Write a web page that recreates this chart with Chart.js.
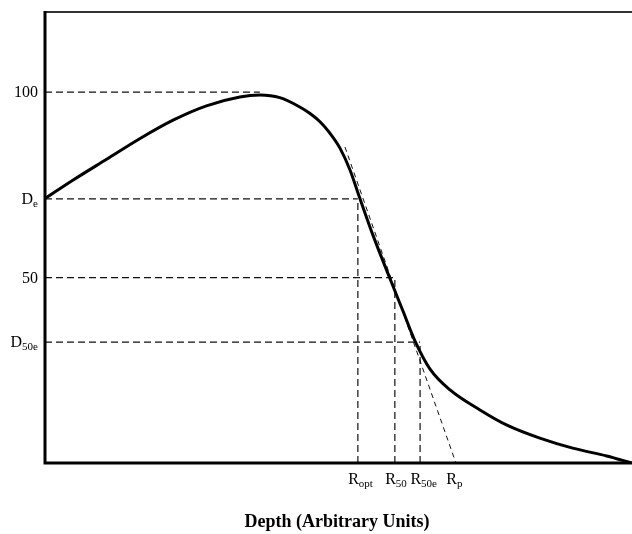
<!DOCTYPE html>
<html>
<head>
<meta charset="utf-8">
<script src="https://cdn.jsdelivr.net/npm/chart.js@4.4.1/dist/chart.umd.min.js"></script>
<style>
  html, body { margin: 0; padding: 0; background: #fff; }
  #wrap { width: 632px; height: 534px; position: relative; }
</style>
</head>
<body>
<div id="wrap"><canvas id="c"></canvas></div>
<script>
// Depth-dose curve (arbitrary units)
const depth = [0, 4.8, 10.5, 16.2, 21.9, 27.5, 33.2, 36.6, 40.0, 43.4, 45.1, 46.85, 48.55, 50.25, 51.96, 53.5, 55.9, 58.8, 61.0, 63.0, 65.6, 69.0, 74.1, 78.7, 84.3, 89.9, 95.7, 100];
const dose  = [71.3, 76.3, 81.9, 87.5, 92.5, 96.3, 98.7, 99.2, 98.5, 96.0, 94.3, 92.0, 88.9, 84.9, 79.0, 72.0, 61.3, 49.6, 40.9, 33.0, 25.3, 19.7, 14.3, 10.2, 6.7, 4.0, 1.9, 0];

// reference dose levels (y tick labels)
const doseLevels = [100, 71.2, 50, 32.6];
const doseMain   = ["100", "D", "50", "D"];
const doseSub    = ["", "e", "", "50e"];

// reference depths (x tick labels)
const peakDepth   = 36.6;
const rangeDepths = [53.3, 59.6, 63.9, 70.0];
const rangeMain   = ["R", "R", "R", "R"];
const rangeSub    = ["opt", "50", "50e", "p"];

// tangent line through the steepest fall-off
const tangentX = [51.1, 70.0];
const tangentY = [85.2, 0];

const xTitle = "Depth (Arbitrary Units)";
const xMin = 0, xMax = 100, yMin = 0, yMax = 121.6;

const dashStyle = { borderColor: '#111', borderWidth: 1.2, borderDash: [7, 4], pointRadius: 0, fill: false, tension: 0 };

const datasets = [];
datasets.push({
  label: 'dose',
  data: depth.map((x, i) => ({ x: x, y: dose[i] })),
  borderColor: '#000', borderWidth: 3, pointRadius: 0, fill: false,
  cubicInterpolationMode: 'monotone'
});
// horizontal guide lines: from axis to the curve
const hEnds = [peakDepth, rangeDepths[0], rangeDepths[1], rangeDepths[2]];
doseLevels.forEach((lv, i) => {
  datasets.push(Object.assign({ data: [{ x: xMin, y: lv }, { x: hEnds[i], y: lv }] }, dashStyle));
});
// vertical guide lines: from axis up to the curve
const vTops = [doseLevels[1], doseLevels[2], doseLevels[3]];
for (let i = 0; i < 3; i++) {
  datasets.push(Object.assign({ data: [{ x: rangeDepths[i], y: yMin }, { x: rangeDepths[i], y: vTops[i] }] }, dashStyle));
}
datasets.push(Object.assign({}, dashStyle, { borderDash: [5, 4], borderWidth: 1, data: tangentX.map((x, i) => ({ x: x, y: tangentY[i] })) }));

const FONT = "'Liberation Serif', 'Times New Roman', serif";

function drawSubLabel(ctx, main, sub, xRight, baseY, mainSize, subSize, alignRightAll) {
  ctx.font = mainSize + 'px ' + FONT;
  const wMain = ctx.measureText(main).width;
  ctx.font = subSize + 'px ' + FONT;
  const wSub = sub ? ctx.measureText(sub).width : 0;
  let x0 = alignRightAll ? xRight - wMain - wSub : xRight - wMain;
  ctx.textAlign = 'left';
  ctx.textBaseline = 'alphabetic';
  ctx.font = mainSize + 'px ' + FONT;
  ctx.fillText(main, x0, baseY);
  if (sub) {
    ctx.font = subSize + 'px ' + FONT;
    ctx.fillText(sub, x0 + wMain, baseY + 3);
  }
}

const decor = {
  id: 'decor',
  afterDraw(chart) {
    const { ctx, chartArea: a, scales } = chart;
    const xs = scales.x, ys = scales.y;
    ctx.save();
    ctx.fillStyle = '#000';
    // frame: top (thin), left and bottom (thick)
    ctx.lineWidth = 2;
    ctx.strokeStyle = '#333';
    ctx.beginPath(); ctx.moveTo(a.left, a.top); ctx.lineTo(a.right, a.top); ctx.stroke();
    ctx.strokeStyle = '#000';
    ctx.lineWidth = 3;
    ctx.beginPath(); ctx.moveTo(a.left, a.top - 1); ctx.lineTo(a.left, a.bottom); ctx.lineTo(a.right, a.bottom); ctx.stroke();

    // y labels
    doseLevels.forEach((lv, i) => {
      const py = ys.getPixelForValue(lv);
      drawSubLabel(ctx, doseMain[i], doseSub[i], a.left - 7, py + 5, 16, 11, true);
    });
    // x labels
    rangeDepths.forEach((d, i) => {
      const px = xs.getPixelForValue(d);
      drawSubLabel(ctx, rangeMain[i], rangeSub[i], px + 1, a.bottom + 21, 16, 11, false);
    });
    // axis title
    ctx.font = 'bold 18px ' + FONT;
    ctx.textAlign = 'center';
    ctx.textBaseline = 'alphabetic';
    ctx.fillText(xTitle, 337, a.bottom + 64);
    ctx.restore();
  }
};

new Chart(document.getElementById('c'), {
  type: 'line',
  data: { datasets: datasets },
  options: {
    responsive: true,
    maintainAspectRatio: false,
    animation: false,
    layout: { padding: { left: 45, top: 12, right: 0, bottom: 71 } },
    plugins: { legend: { display: false }, tooltip: { enabled: false } },
    scales: {
      x: { type: 'linear', min: xMin, max: xMax, display: false },
      y: { type: 'linear', min: yMin, max: yMax, display: false }
    }
  },
  plugins: [decor]
});
</script>
</body>
</html>
